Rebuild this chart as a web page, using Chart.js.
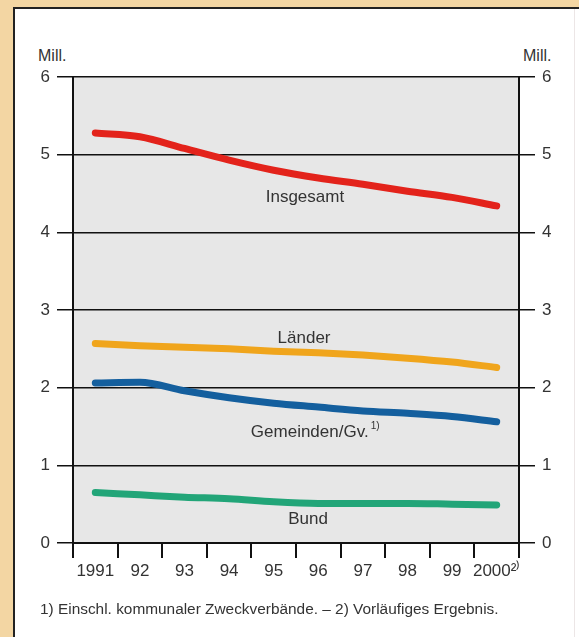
<!DOCTYPE html>
<html>
<head>
<meta charset="utf-8">
<script src="https://cdn.jsdelivr.net/npm/chart.js@4"></script>
<style>
  body { margin: 0; width: 579px; height: 637px; background: #f3d6a3; position: relative; overflow: hidden; font-family: "Liberation Sans", Arial, sans-serif; }
  #panel { position: absolute; left: 13px; top: 7px; width: 566px; height: 630px; background: #fff; border-left: 2px solid #222; border-top: 2px solid #222; }
  #rand { position: absolute; left: 574px; top: 9px; width: 1px; height: 628px; background: #ece6e6; }
  #grafico { position: absolute; left: 0; top: 0; }
  .mill { position: absolute; top: 47px; font-size: 16px; color: #333; }
  #fussnote { position: absolute; left: 40px; top: 600px; font-size: 15.4px; color: #333; white-space: nowrap; }
</style>
</head>
<body>
<div id="panel"></div>
<div id="rand"></div>
<div class="mill" style="left:38px">Mill.</div>
<div class="mill" style="left:523px">Mill.</div>
<canvas id="grafico" width="579" height="637"></canvas>
<div id="fussnote">1) Einschl. kommunaler Zweckverbände. – 2) Vorläufiges Ergebnis.</div>
<script>
// Jahre (Kategorien)
const jahre = ['1991', '92', '93', '94', '95', '96', '97', '98', '99', '2000²⁾'];

// Beschäftigte in Mill.
const insgesamt = [5.28, 5.23, 5.08, 4.93, 4.80, 4.70, 4.62, 4.53, 4.45, 4.34];
const laender   = [2.57, 2.54, 2.52, 2.50, 2.47, 2.45, 2.42, 2.38, 2.33, 2.26];
const gemeinden = [2.06, 2.07, 1.96, 1.87, 1.80, 1.75, 1.70, 1.67, 1.63, 1.56];
const bund      = [0.65, 0.62, 0.59, 0.57, 0.53, 0.51, 0.51, 0.51, 0.50, 0.49];

const yTicks = [0, 1, 2, 3, 4, 5, 6];

// Beschriftungen an den Linien (x = Kategorie-Index, y = Wert)
const beschriftungen = [
    { text: 'Insgesamt', sup: '', x: 4.70, y: 4.45 },
    { text: 'Länder', sup: '', x: 4.68, y: 2.64 },
    { text: 'Gemeinden/Gv.', sup: '1)', x: 4.93, y: 1.42 },
    { text: 'Bund', sup: '', x: 4.77, y: 0.30 }
];

// Hintergrund der Zeichenfläche
const hintergrundPlugin = {
    id: 'hintergrund',
    beforeDraw(chart) {
        const a = chart.chartArea;
        const ctx = chart.ctx;
        ctx.save();
        ctx.fillStyle = '#e7e7e7';
        ctx.fillRect(a.left, a.top, a.right - a.left, a.bottom - a.top);
        ctx.restore();
    }
};

const textPlugin = {
    id: 'linienText',
    afterDatasetsDraw(chart) {
        const ctx = chart.ctx;
        const xs = chart.scales.x;
        const ys = chart.scales.y;
        ctx.save();
        ctx.fillStyle = '#333';
        ctx.textBaseline = 'middle';
        beschriftungen.forEach(b => {
            ctx.font = '17px "Liberation Sans", Arial, sans-serif';
            const w1 = ctx.measureText(b.text).width;
            ctx.font = '10px "Liberation Sans", Arial, sans-serif';
            const w2 = b.sup ? ctx.measureText(b.sup).width + 2 : 0;
            const cx = xs.getPixelForValue(b.x);
            const cy = ys.getPixelForValue(b.y);
            const start = cx - (w1 + w2) / 2;
            ctx.textAlign = 'left';
            ctx.font = '17px "Liberation Sans", Arial, sans-serif';
            ctx.fillText(b.text, start, cy);
            if (b.sup) {
                ctx.font = '10px "Liberation Sans", Arial, sans-serif';
                ctx.fillText(b.sup, start + w1 + 2, cy - 6);
            }
        });
        ctx.restore();
    }
};

function linie(daten, farbe) {
    return {
        data: daten,
        borderColor: farbe,
        borderWidth: 7,
        borderCapStyle: 'round',
        borderJoinStyle: 'round',
        pointRadius: 0,
        tension: 0.3,
        cubicInterpolationMode: 'monotone',
        fill: false,
        yAxisID: 'y'
    };
}

const achsenFont = { family: '"Liberation Sans", Arial, sans-serif', size: 17 };

const ctx = document.getElementById('grafico').getContext('2d');
window.graficoBeschaeftigte = new Chart(ctx, {
    type: 'line',
    data: {
        labels: jahre,
        datasets: [
            linie(insgesamt, '#e3231b'),
            linie(laender, '#f0a51c'),
            linie(gemeinden, '#145f9e'),
            linie(bund, '#22a578')
        ]
    },
    options: {
        responsive: false,
        animation: false,
        layout: { padding: { top: 77, left: 0, right: 0, bottom: 0 } },
        plugins: {
            legend: { display: false },
            tooltip: { enabled: false }
        },
        scales: {
            x: {
                type: 'category',
                offset: true,
                grid: { offset: true, drawOnChartArea: false, drawTicks: true, tickLength: 15, color: '#111', lineWidth: 2 },
                border: { display: true, color: '#111', width: 2 },
                ticks: { font: achsenFont, color: '#333', padding: 3, maxRotation: 0, autoSkip: false },
                afterFit: s => { s.height = 94; }
            },
            y: {
                position: 'left',
                min: 0,
                max: 6,
                afterBuildTicks: s => { s.ticks = yTicks.map(v => ({ value: v })); },
                grid: { color: '#111', lineWidth: 1.5, tickLength: 16 },
                border: { display: true, color: '#111', width: 2 },
                ticks: { font: achsenFont, color: '#333', padding: 7 },
                afterFit: s => { s.width = 73; }
            },
            y2: {
                position: 'right',
                min: 0,
                max: 6,
                afterBuildTicks: s => { s.ticks = yTicks.map(v => ({ value: v })); },
                grid: { drawOnChartArea: false, color: '#111', lineWidth: 1.5, tickLength: 16 },
                border: { display: true, color: '#111', width: 2 },
                ticks: { font: achsenFont, color: '#333', padding: 7 },
                afterFit: s => { s.width = 60; }
            }
        }
    },
    plugins: [hintergrundPlugin, textPlugin]
});
</script>
</body>
</html>
